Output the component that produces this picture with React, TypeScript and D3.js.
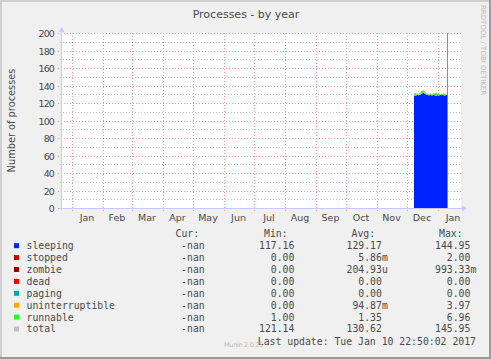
import { useEffect, useRef } from "react";
import * as d3 from "d3";

// daily samples, first one is 2016-12-08 noon, last runs to "now"
const firstDay = Date.UTC(2016, 11, 8, 12);
const nowTime = Date.UTC(2017, 0, 10, 22, 50);

const sleeping = [128.2, 128.6, 128.9, 129.1, 128.8, 129.2, 129.8, 130.6, 131.2, 131.4, 130.8, 130.0,
  129.6, 129.1, 128.8, 128.9, 129.1, 128.7, 128.8, 129.2, 128.9, 128.6, 128.7, 129.0, 128.7, 128.8,
  129.1, 128.9, 129.3, 129.0, 128.7, 128.9, 129.2, 129.0];
const runnable = [2.4, 2.0, 1.2, 1.1, 1.0, 1.2, 1.4, 2.2, 2.5, 2.6, 2.1, 1.3, 1.1, 1.0, 1.0, 1.1, 1.2,
  1.0, 1.1, 1.3, 1.9, 2.2, 2.3, 2.0, 1.6, 1.1, 1.0, 1.1, 1.0, 1.2, 1.0, 1.1, 1.0, 1.0];
const total = [130.6, 130.6, 130.1, 130.2, 129.8, 130.4, 131.2, 132.8, 133.7, 134.0, 132.9, 131.3,
  130.7, 130.1, 129.8, 130.0, 130.3, 129.7, 129.9, 130.5, 130.8, 130.8, 131.0, 131.0, 130.3, 129.9,
  130.1, 130.0, 130.3, 130.2, 129.7, 130.0, 130.2, 130.0];

const yTicks = [0, 20, 40, 60, 80, 100, 120, 140, 160, 180, 200];
const monthNames = ["Jan", "Feb", "Mar", "Apr", "May", "Jun", "Jul", "Aug", "Sep", "Oct", "Nov", "Dec", "Jan"];

const legendNames = ["sleeping", "stopped", "zombie", "dead", "paging", "uninterruptible", "runnable", "total"];
const legendColors = ["#0022ff", "#cc0000", "#990000", "#ff0000", "#00aaaa", "#ffa500", "#22ff22", "#c0c0c0"];
const curVals = ["-nan", "-nan", "-nan", "-nan", "-nan", "-nan", "-nan", "-nan"];
const minVals = ["117.16", "0.00", "0.00", "0.00", "0.00", "0.00", "1.00", "121.14"];
const avgVals = ["129.17", "5.86m", "204.93u", "0.00", "0.00", "94.87m", "1.35", "130.62"];
const maxVals = ["144.95", "2.00", "993.33m", "0.00", "0.00", "3.97", "6.96", "145.95"];

const W = 491, H = 359;
const left = 61, right = 461, top = 33, bottom = 208;
const mono = "'DejaVu Sans Mono', monospace";
const sans = "'DejaVu Sans', sans-serif";
const ink = "#4a4a4a";

// rrdtool style "%6.2lf%s": number right-aligned in 6 chars, unit or blank after
const pad = (s: string) => {
  const unit = /[a-z]$/.test(s) && s !== "-nan" ? s.slice(-1) : " ";
  const num = unit === " " ? s : s.slice(0, -1);
  return num.padStart(6, " ") + unit;
};

const App = () => {
  const ref = useRef<SVGSVGElement>(null);

  useEffect(() => {
    const svg = d3.select(ref.current);
    svg.selectAll("*").remove();

    svg.append("rect").attr("width", W).attr("height", H).attr("fill", "#f0f0f0");
    // frame
    svg.append("path").attr("d", `M1,${H} V1 H${W}`).attr("stroke", "#cfcfcf").attr("stroke-width", 2).attr("fill", "none");
    svg.append("path").attr("d", `M0,${H - 1} H${W - 1} V0`).attr("stroke", "#9a9a9a").attr("stroke-width", 2).attr("fill", "none");

    const x = d3.scaleUtc()
      .domain([new Date(Date.UTC(2015, 11, 21, 12)), new Date(Date.UTC(2017, 0, 24, 12))])
      .range([left, right]);
    const y = d3.scaleLinear().domain([0, 200]).range([bottom, top]);

    svg.append("rect").attr("x", left).attr("y", top).attr("width", right - left).attr("height", bottom - top).attr("fill", "#ffffff");

    // minor horizontal grid
    d3.range(10, 200, 20).forEach((v) => {
      svg.append("line").attr("x1", left - 1).attr("x2", right).attr("y1", Math.round(y(v)) + 0.5).attr("y2", Math.round(y(v)) + 0.5)
        .attr("stroke", "#c8c8c8").attr("stroke-dasharray", "1,2");
    });
    // major horizontal grid
    yTicks.forEach((v) => {
      const yy = Math.round(y(v)) + 0.5;
      svg.append("line").attr("x1", left - 3).attr("x2", right).attr("y1", yy).attr("y2", yy)
        .attr("stroke", "#f0a0a0").attr("stroke-dasharray", "1,2");
      svg.append("text").attr("x", 54).attr("y", yy + 3.5).attr("text-anchor", "end")
        .attr("font-family", sans).attr("font-size", 9.5).attr("letter-spacing", -0.9).attr("fill", ink).text(v);
    });

    const months = d3.utcMonth.range(new Date(Date.UTC(2016, 0, 1)), new Date(Date.UTC(2017, 1, 1)));
    months.forEach((m, i) => {
      const xx = Math.round(x(m)) + 0.5;
      svg.append("line").attr("x1", xx).attr("x2", xx).attr("y1", top).attr("y2", bottom + 3)
        .attr("stroke", "#f0a0a0").attr("stroke-dasharray", "1,2");
      const mid = new Date((m.getTime() + d3.utcMonth.offset(m, 1).getTime()) / 2);
      svg.append("text").attr("x", x(mid)).attr("y", 221).attr("text-anchor", "middle")
        .attr("font-family", sans).attr("font-size", 9.5).attr("fill", ink).text(monthNames[i]);
    });

    // stacked areas
    const rows = sleeping.map((s, i) => ({ t: firstDay + i * 86400000, sleeping: s, runnable: runnable[i], total: total[i] }));
    rows.push({ ...rows[rows.length - 1], t: nowTime });
    const stacked = d3.stack<any>().keys(["sleeping", "runnable"])(rows);
    const area = d3.area<any>()
      .x((d) => x(new Date(d.data.t)))
      .y0((d) => y(d[0]))
      .y1((d) => y(d[1]))
      .curve(d3.curveStepAfter);
    svg.append("path").attr("d", area(stacked[0]) as string).attr("fill", "#0022ff");
    svg.append("path").attr("d", area(stacked[1]) as string).attr("fill", "#22ff22");
    const line = d3.line<any>().x((d) => x(new Date(d.t))).y((d) => y(d.total)).curve(d3.curveStepAfter);
    svg.append("path").attr("d", line(rows) as string).attr("fill", "none").attr("stroke", "#b8b8b8").attr("stroke-width", 1);

    // now marker
    const nx = Math.round(x(new Date(nowTime))) + 0.5;
    svg.append("line").attr("x1", nx).attr("x2", nx).attr("y1", top).attr("y2", bottom).attr("stroke", "#8c8c8c");

    // axes with arrows
    svg.append("line").attr("x1", left + 0.5).attr("x2", left + 0.5).attr("y1", bottom + 2).attr("y2", top - 2).attr("stroke", "#c8c8ff");
    svg.append("path").attr("d", `M${left - 2.5},${top - 1} L${left + 3.5},${top - 1} L${left + 0.5},${top - 6} Z`).attr("fill", "#c8c8ff");
    svg.append("line").attr("x1", left - 2).attr("x2", right + 2).attr("y1", bottom + 0.5).attr("y2", bottom + 0.5).attr("stroke", "#c8c8ff");
    svg.append("path").attr("d", `M${right + 1},${bottom - 2.5} L${right + 1},${bottom + 3.5} L${right + 6},${bottom + 0.5} Z`).attr("fill", "#c8c8ff");

    // titles
    svg.append("text").attr("x", 246).attr("y", 18).attr("text-anchor", "middle")
      .attr("font-family", sans).attr("font-size", 11).attr("fill", ink).text("Processes - by year");
    svg.append("text").attr("transform", `translate(14.5,${(top + bottom) / 2}) rotate(-90)`).attr("text-anchor", "middle")
      .attr("font-family", sans).attr("font-size", 9.8).attr("fill", ink).text("Number of processes");
    svg.append("text").attr("transform", "translate(481,5) rotate(90)")
      .attr("font-family", sans).attr("font-size", 7).attr("fill", "#bbbbbb").text("RRDTOOL / TOBI OETIKER");

    // legend
    const g = svg.append("g").attr("font-family", mono).attr("font-size", 9.8).attr("fill", ink).style("white-space", "pre");
    const heads = [["Cur:", 175.5], ["Min:", 264], ["Avg:", 351.5], ["Max:", 439]];
    heads.forEach(([t, xx]) => g.append("text").attr("x", xx as number).attr("y", 237).text(t as string));
    const cols: [string[], number][] = [[curVals, 169.3], [minVals, 259], [avgVals, 346.5], [maxVals, 435]];
    legendNames.forEach((name, i) => {
      const cy = 245.7 + i * 11.9;
      svg.append("rect").attr("x", 14).attr("y", cy - 2.5).attr("width", 5).attr("height", 5).attr("fill", legendColors[i]);
      g.append("text").attr("x", 26.5).attr("y", cy + 3.4).text(name);
      cols.forEach(([vals, xx]) => {
        g.append("text").attr("x", xx).attr("y", cy + 3.4).attr("xml:space", "preserve").text(pad(vals[i]));
      });
    });
    g.append("text").attr("x", 476).attr("y", 344.5).attr("text-anchor", "end").text("Last update: Tue Jan 10 22:50:02 2017");
    svg.append("text").attr("x", 224).attr("y", 347).attr("font-family", sans).attr("font-size", 6.5)
      .attr("letter-spacing", -0.3).attr("fill", "#bbbbbb").text("Munin 2.0.25");
  }, []);

  return <svg ref={ref} width={W} height={H} style={{ display: "block", position: "absolute", left: 0, top: 0 }} />;
};

export default App;
